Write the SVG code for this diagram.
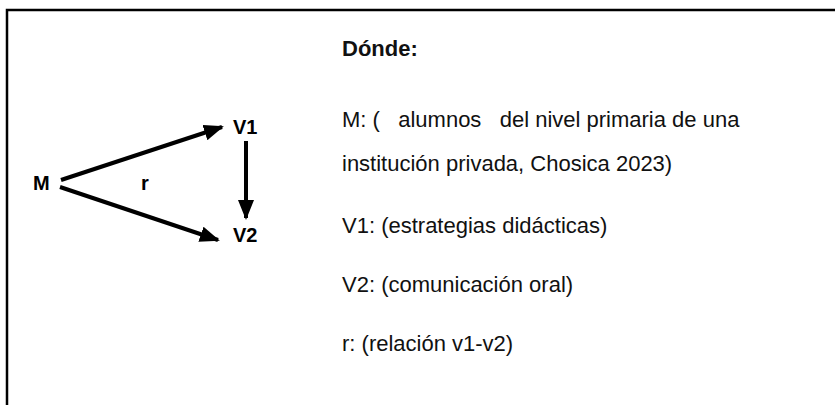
<svg xmlns="http://www.w3.org/2000/svg" width="835" height="405" viewBox="0 0 835 405">
<style>
.lbl{font-family:"Liberation Sans",Arial,sans-serif;font-weight:bold;font-size:20px;fill:#000}
.txt{font-family:"Liberation Sans",Arial,sans-serif;font-size:22px;fill:#111}
.ttl{font-family:"Liberation Sans",Arial,sans-serif;font-weight:bold;font-size:22px;fill:#111}
.con{stroke:#000;stroke-width:4;fill:none;marker-end:url(#ah)}
</style>
<defs>
<marker id="ah" markerWidth="5" markerHeight="4" refX="4.5" refY="2" orient="auto" markerUnits="strokeWidth">
<path d="M0,0 L5,2 L0,4 Z" fill="#000"/>
</marker>
</defs>
<rect x="0" y="0" width="835" height="405" fill="#fff"/>
<path d="M7,405 V10 H840" stroke="#000" stroke-width="2.5" fill="none"/>
<g id="connectors">
<line class="con" x1="61" y1="180" x2="222" y2="127"/>
<line class="con" x1="60" y1="187" x2="218" y2="240"/>
<line class="con" x1="246" y1="141" x2="246" y2="218"/>
</g>
<g id="node-M"><text class="lbl" x="33" y="190">M</text></g>
<g id="node-V1"><text class="lbl" x="233" y="134">V1</text></g>
<g id="node-V2"><text class="lbl" x="233" y="242">V2</text></g>
<g id="label-r"><text class="lbl" x="141" y="190">r</text></g>
<g id="legend">
<text class="ttl" x="342" y="56">Dónde:</text>
<text class="txt" x="342" y="127" xml:space="preserve">M: (   alumnos   del nivel primaria de una</text>
<text class="txt" x="342" y="171">institución privada, Chosica 2023)</text>
<text class="txt" x="342" y="233">V1: (estrategias didácticas)</text>
<text class="txt" x="342" y="292">V2: (comunicación oral)</text>
<text class="txt" x="342" y="351">r: (relación v1-v2)</text>
</g>
</svg>
